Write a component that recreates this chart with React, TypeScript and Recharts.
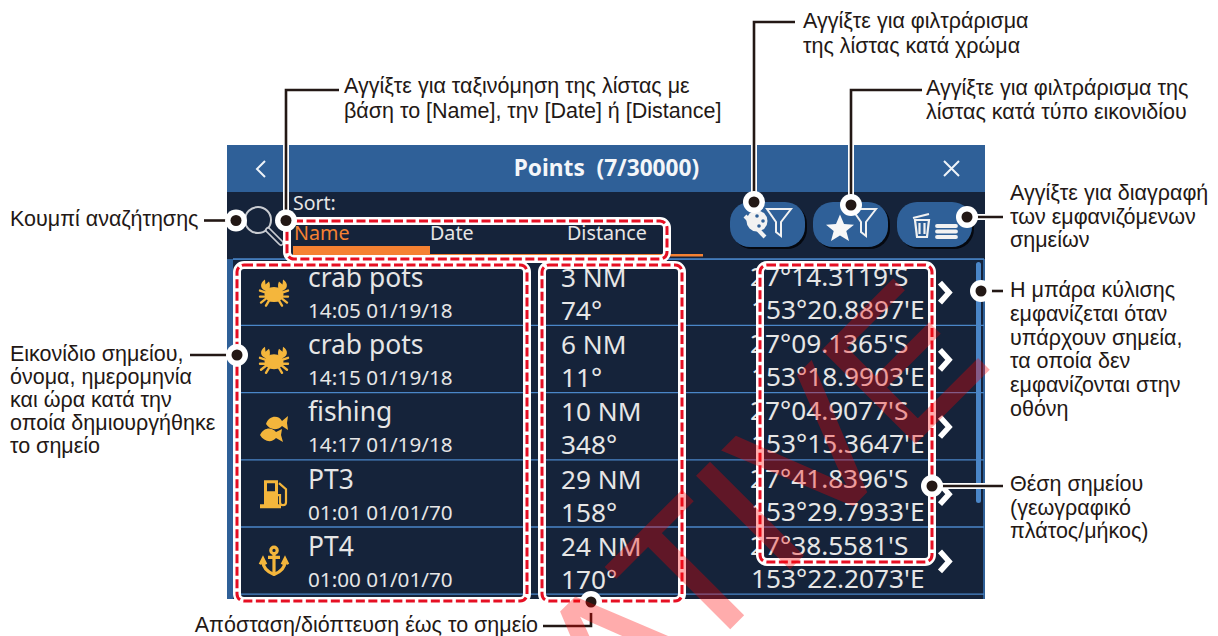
import React from "react";
import { ComposedChart, XAxis, YAxis, Scatter, ReferenceArea, ReferenceLine } from "recharts";

// ---- content ----
const TITLE = "Points  (7/30000)";
const SORT_LABEL = "Sort:";
const SORT_TABS = ["Name", "Date", "Distance"];
const NAMES = ["crab pots", "crab pots", "fishing", "PT3", "PT4"];
const TIMES = ["14:05 01/19/18", "14:15 01/19/18", "14:17 01/19/18", "01:01 01/01/70", "01:00 01/01/70"];
const DISTANCES = ["3 NM", "6 NM", "10 NM", "29 NM", "24 NM"];
const BEARINGS = ["74°", "11°", "348°", "158°", "170°"];
const LATITUDES = ["27°14.3119'S", "27°09.1365'S", "27°04.9077'S", "27°41.8396'S", "27°38.5581'S"];
const LONGITUDES = ["153°20.8897'E", "153°18.9903'E", "153°15.3647'E", "153°29.7933'E", "153°22.2073'E"];
const ICONS = ["crab", "crab", "fish", "fuel", "anchor"];
const NOTE_SEARCH = ["Κουμπί αναζήτησης"];
const NOTE_SORT = ["Αγγίξτε για ταξινόμηση της λίστας με", "βάση το [Name], την [Date] ή [Distance]"];
const NOTE_COLOR = ["Αγγίξτε για φιλτράρισμα", "της λίστας κατά χρώμα"];
const NOTE_TYPE = ["Αγγίξτε για φιλτράρισμα της", "λίστας κατά τύπο εικονιδίου"];
const NOTE_DELETE = ["Αγγίξτε για διαγραφή", "των εμφανιζόμενων", "σημείων"];
const NOTE_SCROLL = ["Η μπάρα κύλισης", "εμφανίζεται όταν", "υπάρχουν σημεία,", "τα οποία δεν", "εμφανίζονται στην", "οθόνη"];
const NOTE_POSITION = ["Θέση σημείου", "(γεωγραφικό", "πλάτος/μήκος)"];
const NOTE_ICON = ["Εικονίδιο σημείου,", "όνομα, ημερομηνία", "και ώρα κατά την", "οποία δημιουργήθηκε", "το σημείο"];
const NOTE_DISTANCE = ["Απόσταση/διόπτευση έως το σημείο"];
const WATERMARK = "INFORMATIVE";

// ---- layout ----
const W = 1218, H = 636;
const ROW_TOP = 259, ROW_H = 67.2, ROW_COUNT = 5;
const BLUE = "#2f6098", DARK = "#15233a", INK = "#231815", TXT = "#e6e6e6", GOLD = "#f4b63c", ORANGE = "#f58132", LINE_BLUE = "#4a86c8";
const UI = "'Noto Sans', sans-serif", NOTE = "'Liberation Sans', Arial, sans-serif";

const rows = NAMES.map((name, i) => ({
  x: 227, y: ROW_TOP + i * ROW_H, name, time: TIMES[i], dist: DISTANCES[i], bearing: BEARINGS[i],
  lat: LATITUDES[i], lon: LONGITUDES[i], icon: ICONS[i],
}));
const rowRules = Array.from({ length: ROW_COUNT + 1 }, (_, i) => ROW_TOP + i * ROW_H - (i === 0 ? 0 : 0.8));

const boxes = [
  { x: 287, y: 221, w: 380, h: 38 },
  { x: 237, y: 265, w: 290, h: 336 },
  { x: 542, y: 265, w: 140, h: 336 },
  { x: 760, y: 265, w: 172, h: 297 },
];

const leaders = [
  [{ x: 204, y: 220.5 }, { x: 236, y: 220.5 }],
  [{ x: 339, y: 90 }, { x: 286, y: 90 }, { x: 286, y: 220.5 }],
  [{ x: 795, y: 22 }, { x: 754, y: 22 }, { x: 754, y: 202 }],
  [{ x: 922, y: 90 }, { x: 851, y: 90 }, { x: 851, y: 205 }],
  [{ x: 1003, y: 217 }, { x: 967, y: 217 }],
  [{ x: 1003, y: 291 }, { x: 981, y: 291 }],
  [{ x: 1003, y: 486 }, { x: 932, y: 486 }],
  [{ x: 190, y: 355 }, { x: 237, y: 355 }],
  [{ x: 543, y: 626 }, { x: 591, y: 626 }, { x: 591, y: 602 }],
];

const notes = [
  { x: 10, y: 226, lh: 23, lines: NOTE_SEARCH, anchor: "start" },
  { x: 344, y: 93, lh: 25, lines: NOTE_SORT, anchor: "start" },
  { x: 803, y: 28, lh: 24.5, lines: NOTE_COLOR, anchor: "start" },
  { x: 926, y: 95, lh: 24, lines: NOTE_TYPE, anchor: "start" },
  { x: 1010, y: 200, lh: 23.5, lines: NOTE_DELETE, anchor: "start" },
  { x: 1010, y: 297, lh: 23.8, lines: NOTE_SCROLL, anchor: "start" },
  { x: 1010, y: 491, lh: 23.5, lines: NOTE_POSITION, anchor: "start" },
  { x: 10, y: 361, lh: 23, lines: NOTE_ICON, anchor: "start" },
  { x: 538, y: 632, lh: 23, lines: NOTE_DISTANCE, anchor: "end" },
];

const ORIGIN = [{ x: 0, y: 0 }];

// ---- icons ----
const Crab = () => (
  <g fill={GOLD} stroke={GOLD} strokeLinecap="round">
    <ellipse cx="0" cy="2" rx="9.5" ry="7.5" stroke="none" />
    <path d="M-7 -1 C-14 -3 -15 -9 -9 -13 L-8.5 -8 L-5 -11 C-3 -7 -5 -4 -4 -1Z" stroke="none" />
    <path d="M7 -1 C14 -3 15 -9 9 -13 L8.5 -8 L5 -11 C3 -7 5 -4 4 -1Z" stroke="none" />
    <path d="M-8 0 L-14 -2 M-8 4 L-14 4 M-8 6 L-13 10 M-5 8 L-8 13 M8 0 L14 -2 M8 4 L14 4 M8 6 L13 10 M5 8 L8 13" fill="none" strokeWidth="2.4" />
  </g>
);
const Fish = () => (
  <g fill={GOLD}>
    <path d="M-8 -3 C-5 -12 5 -12 8 -6 L14 -11 L13 -4 L14 3 L8 -1 C3 4 -4 3 -8 -3Z" />
    <path d="M-14 8 C-10 0 -2 0 2 5 L8 2 L7 8 L9 15 L2 11 C-2 16 -10 15 -14 8Z" />
  </g>
);
const Fuel = () => (
  <g fill={GOLD}>
    <path fillRule="evenodd" d="M-10 -14 H4 V10 H7 V14 H-14 V10 H-10Z M-7 -11 V-3 H1 V-11Z" />
    <path d="M5 -11 L12 -5 V8 A3 3 0 0 1 6 8 V1 H4" fill="none" stroke={GOLD} strokeWidth="2.2" />
  </g>
);
const Anchor = () => (
  <g fill="none" stroke={GOLD} strokeWidth="3.2">
    <circle cx="0" cy="-11" r="3.2" />
    <path d="M0 -8 V12 M-6 -4 H6" />
    <path d="M-11 0 C-11 8 -5 11 0 13 C5 11 11 8 11 0" />
    <path d="M-14 3 L-11 -3 L-8 3 M14 3 L11 -3 L8 3" strokeWidth="2.8" />
  </g>
);
const ICON_MAP: Record<string, React.FC> = { crab: Crab, fish: Fish, fuel: Fuel, anchor: Anchor };

// ---- shapes ----
const RowShape = (p: any) => {
  const { cx, cy, payload: r } = p;
  const Icon = ICON_MAP[r.icon];
  const mid = cy + ROW_H / 2;
  return (
    <g fontFamily={UI} fill={TXT}>
      <g transform={`translate(${cx + 47},${mid})`}><Icon /></g>
      <text x={cx + 81} y={cy + 28} fontSize={26.4}>{r.name}</text>
      <text x={cx + 81} y={cy + 59} fontSize={20.7}>{r.time}</text>
      <text x={cx + 334} y={cy + 28} fontSize={26.2}>{r.dist}</text>
      <text x={cx + 334} y={cy + 61} fontSize={26.2}>{r.bearing}</text>
      <text x={cx + 523} y={cy + 27} fontSize={26.2}>{r.lat}</text>
      <text x={cx + 524} y={cy + 60} fontSize={26.2}>{r.lon}</text>
      <path d={`M${cx + 713} ${mid - 10} L${cx + 722} ${mid} L${cx + 713} ${mid + 10}`} fill="none" stroke="#fff" strokeWidth="5.5" />
    </g>
  );
};

const Pill = ({ x }: { x: number }) => (
  <g>
    <rect x={x + 2} y={204} width={75} height={45} rx={20} fill="#05080f" />
    <rect x={x} y={202} width={75} height={45} rx={20} fill={BLUE} />
  </g>
);

const Funnel = ({ x }: { x: number }) => (
  <path d={`M${x} 209 H${x + 24} L${x + 14} 222 V236 L${x + 9} 232 V222Z`} fill="none" stroke="#f2f2f2" strokeWidth="2" />
);

const ToolbarShape = (p: any) => (
  <g transform={`translate(${p.cx},${p.cy})`} fontFamily={UI}>
    <path d="M265 161 L257 169 L265 177" fill="none" stroke="#eef3f8" strokeWidth="2" />
    <text x={606.5} y={176} fontSize={22.7} fontWeight={700} fill="#f4f6f9" textAnchor="middle" xmlSpace="preserve">{TITLE}</text>
    <path d="M944 161 L959 176 M959 161 L944 176" stroke="#eef3f8" strokeWidth="2" />
    <text x={293} y={210} fontSize={19.5} fill={TXT}>{SORT_LABEL}</text>
    <circle cx={258} cy={220} r={13} fill="none" stroke="#c9ccd2" strokeWidth="2" />
    <path d="M268 230 L281 243" stroke="#c9ccd2" strokeWidth="6" strokeLinecap="round" />
    <path d="M268 230 L281 243" stroke={DARK} strokeWidth="2.5" strokeLinecap="round" />
    {SORT_TABS.map((t, i) => (
      <text key={t} x={[294, 430, 567][i]} y={240} fontSize={19.7} fill={i === 0 ? ORANGE : TXT}>{t}</text>
    ))}
    <rect x={293} y={246} width={137} height={10} fill={ORANGE} />
    <rect x={430} y={254} width={273} height={2.5} fill={ORANGE} />
    <Pill x={730} /><Pill x={813} /><Pill x={897} />
    <Funnel x={767} /><Funnel x={852} />
    <circle cx={757} cy={221} r={10.5} fill="#f2f2f2" />
    <path d="M745 216 L765 237" stroke="#f2f2f2" strokeWidth="4" />
    <circle cx={757} cy={216} r={1.8} fill={BLUE} /><circle cx={763} cy={221} r={1.8} fill={BLUE} /><circle cx={759} cy={226} r={1.8} fill={BLUE} />
    <path d="M840 214.5 L844 224 L854 224.8 L846.3 231 L849 241 L840 235.5 L831 241 L833.7 231 L826 224.8 L836 224Z" fill="#f7f7f7" />
    <path d="M913 218 L929 214 M915 220 H929 L927 237 H917Z M919.5 223 V234 M924.5 223 V234" fill="none" stroke="#f2f2f2" strokeWidth="2.2" />
    <path d="M937 226 H956 M937 231.5 H956 M937 237 H956" stroke="#f2f2f2" strokeWidth="3.8" strokeLinecap="round" />
    <rect x={976} y={262} width={5} height={241} rx={2.5} fill={LINE_BLUE} />
  </g>
);

const BoxShape = (p: any) => {
  const { cx, cy, payload: b } = p;
  return (
    <g fill="none">
      <rect x={cx} y={cy} width={b.w} height={b.h} rx={7} stroke="#fff" strokeWidth={8} />
      <rect x={cx} y={cy} width={b.w} height={b.h} rx={7} stroke="#e60f23" strokeWidth={3} strokeDasharray="9 3.5" />
    </g>
  );
};

const noDot = () => <g />;
const EndDot = (p: any) =>
  p.payload.end ? (
    <g>
      <circle cx={p.cx} cy={p.cy} r={11} fill="#fff" />
      <circle cx={p.cx} cy={p.cy} r={5.5} fill={INK} />
    </g>
  ) : (
    <g />
  );

const NoteShape = (p: any) => {
  const { cx, cy, payload: n } = p;
  return (
    <text fontFamily={NOTE} fontSize={21.5} fill={INK} textAnchor={n.anchor}>
      {n.lines.map((l: string, i: number) => (
        <tspan key={i} x={cx} y={cy + i * n.lh}>{l}</tspan>
      ))}
    </text>
  );
};

const WatermarkShape = (p: any) => (
  <g opacity={0.32}>
    <text
      x={p.cx} y={p.cy} transform={`rotate(-45 ${p.cx} ${p.cy})`}
      fontFamily={NOTE} fontSize={190} fill="#ff0000" stroke="#ff0000" strokeWidth={2} textAnchor="end"
    >{WATERMARK}</text>
  </g>
);

export default function App() {
  return (
    <div style={{ position: "absolute", left: 0, top: 0, width: W, height: H, background: "#fff", overflow: "hidden" }}>
      <ComposedChart width={W} height={H} margin={{ top: 0, right: 0, bottom: 0, left: 0 }}>
        <XAxis type="number" dataKey="x" domain={[0, W]} hide allowDataOverflow />
        <YAxis type="number" dataKey="y" domain={[0, H]} reversed hide allowDataOverflow />
        <ReferenceArea x1={227} x2={985} y1={145} y2={599} fill={BLUE} fillOpacity={1} stroke="none" />
        <ReferenceArea x1={227} x2={985} y1={192} y2={259} fill={DARK} fillOpacity={1} stroke="none" />
        <ReferenceArea x1={233} x2={983} y1={260} y2={599} fill={DARK} fillOpacity={1} stroke="none" />
        {rowRules.map((y) => (
          <ReferenceLine key={y} segment={[{ x: 233, y }, { x: 984, y }]} stroke={LINE_BLUE} strokeWidth={1.3} />
        ))}
        <Scatter data={ORIGIN} shape={ToolbarShape} isAnimationActive={false} />
        <Scatter data={rows} shape={RowShape} isAnimationActive={false} />
        <Scatter data={boxes} shape={BoxShape} isAnimationActive={false} />
        {leaders.map((pts, i) => (
          <Scatter key={`h${i}`} data={pts} shape={noDot} line={{ stroke: "#fff", strokeWidth: 6 }} isAnimationActive={false} />
        ))}
        {leaders.map((pts, i) => (
          <Scatter
            key={`l${i}`}
            data={pts.map((pt, j) => ({ ...pt, end: j === pts.length - 1 }))}
            shape={EndDot}
            line={{ stroke: INK, strokeWidth: 2.6 }}
            isAnimationActive={false}
          />
        ))}
        <Scatter data={notes} shape={NoteShape} isAnimationActive={false} />
        <Scatter data={[{ x: 994, y: 364 }]} shape={WatermarkShape} isAnimationActive={false} />
      </ComposedChart>
    </div>
  );
}
